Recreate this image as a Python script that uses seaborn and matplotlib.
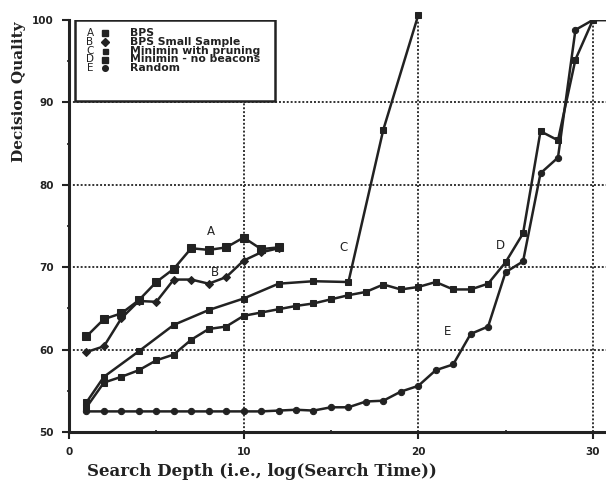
import matplotlib
matplotlib.use("Agg")
import matplotlib.pyplot as plt
import seaborn as sns
import pandas as pd
from matplotlib.patches import Rectangle
from matplotlib.lines import Line2D

# ---- data ----
a_x = [1, 2, 3, 4, 5, 6, 7, 8, 9, 10, 11, 12]
a_y = [61.6, 63.7, 64.4, 66.0, 68.2, 69.8, 72.3, 72.1, 72.4, 73.6, 72.2, 72.4]

b_x = [1, 2, 3, 4, 5, 6, 7, 8, 9, 10, 11, 12]
b_y = [59.7, 60.4, 63.8, 65.9, 65.8, 68.5, 68.5, 68.0, 68.8, 70.8, 71.8, 72.3]

c_x = [1, 2, 4, 6, 8, 10, 12, 14, 16, 18, 20]
c_y = [53.6, 56.7, 59.8, 63.0, 64.8, 66.2, 68.0, 68.3, 68.2, 86.7, 100.6]

d_x = list(range(1, 32))
d_y = [53.0, 56.0, 56.7, 57.5, 58.7, 59.4, 61.2, 62.5, 62.8, 64.1,
       64.5, 64.9, 65.3, 65.6, 66.1, 66.6, 67.0, 67.9, 67.3, 67.6,
       68.2, 67.3, 67.3, 68.0, 70.6, 74.1, 86.5, 85.4, 95.2, 100.0, 100.0]

e_x = list(range(1, 32))
e_y = [52.5, 52.5, 52.5, 52.5, 52.5, 52.5, 52.5, 52.5, 52.5, 52.5,
       52.5, 52.6, 52.7, 52.6, 53.0, 53.0, 53.7, 53.8, 54.9, 55.6,
       57.5, 58.2, 61.9, 62.8, 69.4, 70.7, 81.4, 83.3, 98.8, 100.0, 100.0]

letters = ["A", "B", "C", "D", "E"]
names = ["BPS", "BPS Small Sample", "Minimin with pruning",
         "Minimin - no beacons", "Random"]
markers = ["s", "D", "s", "s", "o"]
msizes = [5.5, 4.5, 4.0, 5.0, 4.5]

x_ticks = [0, 10, 20, 30]
y_ticks = [50, 60, 70, 80, 90, 100]

curve_labels = {"A": (8.1, 74.3), "B": (8.35, 69.3), "C": (15.7, 72.4),
                "D": (24.7, 72.6), "E": (21.7, 62.2)}

# ---- figure ----
sns.set_style("ticks")
fig = plt.figure(figsize=(6.06, 4.91), dpi=100)
ax = fig.add_axes([69 / 606, 59 / 491, 537 / 606, 412 / 491])

series = [(a_x, a_y), (b_x, b_y), (c_x, c_y), (d_x, d_y), (e_x, e_y)]
for i, (xs, ys) in enumerate(series):
    df = pd.DataFrame({"x": xs, "y": ys})
    sns.lineplot(data=df, x="x", y="y", ax=ax, color="#222222",
                 marker=markers[i], markersize=msizes[i],
                 markeredgecolor="#222222", linewidth=1.8, sort=False,
                 legend=False)
    if letters[i] == "C":
        ax.lines[-1].set_clip_on(False)

ax.set_xlim(0, 30.75)
ax.set_ylim(50, 100)
ax.set_xticks(x_ticks)
ax.set_yticks(y_ticks)
ax.set_xticks([5, 15, 25], minor=True)
ax.set_yticks([55, 65, 75, 85, 95], minor=True)
ax.tick_params(axis="both", which="major", length=5, width=1.5,
               color="#222222", labelsize=7.5, pad=6)
ax.tick_params(axis="both", which="minor", length=3, width=1.2,
               color="#222222", direction="inout")
for lab in ax.get_xticklabels() + ax.get_yticklabels():
    lab.set_fontweight("bold")
    lab.set_color("#222222")

# grid
for gx in [10, 20, 30]:
    ax.axvline(gx, color="#333333", lw=1.4, ls=(0, (1, 1)), zorder=0)
for gy in [60, 70, 80, 90]:
    ax.axhline(gy, color="#333333", lw=1.4, ls=(0, (1, 1)), zorder=0)

sns.despine(ax=ax, top=True, right=True)
for sp in ["left", "bottom"]:
    ax.spines[sp].set_linewidth(2.2)
    ax.spines[sp].set_color("#222222")

ax.set_xlabel("Search Depth (i.e., log(Search Time))", family="DejaVu Serif",
              fontweight="bold", fontsize=12, color="#222222")
ax.set_ylabel("Decision Quality", family="DejaVu Serif",
              fontweight="bold", fontsize=11, color="#222222")
ax.xaxis.set_label_coords(0.36, -0.097)
ax.xaxis.label.set_va("center")
ax.yaxis.set_label_coords(-0.093, 0.825)
ax.yaxis.label.set_va("center")

# curve letters
for k, (lx, ly) in curve_labels.items():
    ax.text(lx, ly, k, fontsize=8.5, ha="center", va="center", color="#222222")

# legend box
def axc(px, py):
    return ((px - 69) / 537, (432 - py) / 412)

x0, y0 = axc(75, 101)
x1, y1 = axc(275, 20)
ax.add_patch(Rectangle((x0, y0), x1 - x0, y1 - y0, transform=ax.transAxes,
                       facecolor="white", edgecolor="#222222", lw=1.8,
                       zorder=5))
rows_py = [33, 42, 51, 59.5, 68]
for i in range(5):
    lx, ly = axc(90, rows_py[i])
    ax.text(lx, ly, letters[i], transform=ax.transAxes, fontsize=7.5,
            ha="center", va="center", color="#222222", zorder=6)
    mx, my = axc(105, rows_py[i])
    ax.add_line(Line2D([mx], [my], transform=ax.transAxes, marker=markers[i],
                       markersize=msizes[i] * 0.9, color="#222222",
                       linestyle="none", zorder=6))
    tx, ty = axc(130, rows_py[i])
    ax.text(tx, ty, names[i], transform=ax.transAxes, fontsize=7.8,
            fontweight="bold", ha="left", va="center", color="#222222",
            zorder=6)

fig.savefig("out.png", dpi=100)
